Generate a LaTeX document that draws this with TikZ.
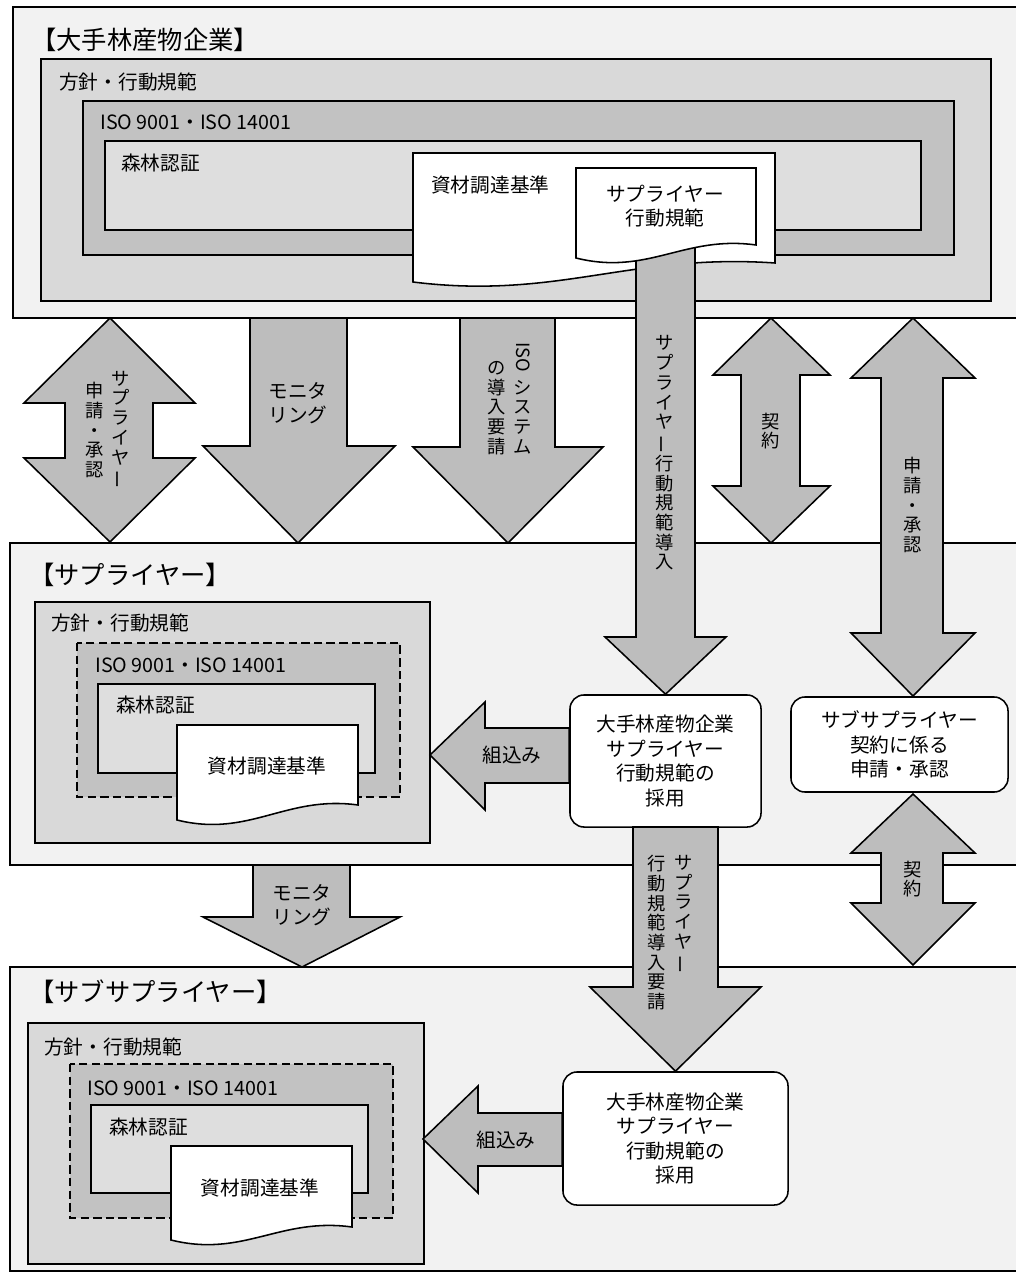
\documentclass[tikz,border=0pt]{standalone}
\usepackage{fontspec}
\setmainfont{Noto Sans CJK JP}
\usepackage{graphicx}
\usetikzlibrary{calc}

\definecolor{framegray}{gray}{0.95}
\definecolor{policygray}{gray}{0.85}
\definecolor{isogray}{gray}{0.76}
\definecolor{certgray}{gray}{0.87}
\definecolor{arrowgray}{gray}{0.74}

% long vowel mark for vertical text
\newcommand{\tatebar}{\rotatebox[origin=c]{90}{ー}}
% sideways latin letters in vertical text
\newcommand{\tateiso}{\rotatebox[origin=c]{-90}{ISO}}
% document shape: left, top, right, bottom right, bottom left
\newcommand{\drawdoc}[5]{%
  \draw[docshape] (#1,#2) -- (#3,#2) -- (#3,#4)
    .. controls ({#3-0.4*(#3-#1)},{#4-10}) and ({#1+0.4*(#3-#1)},{#5+18}) .. (#1,#5) -- cycle;}

\begin{document}
\begin{tikzpicture}[x=0.025cm, y=-0.025cm,
	every node/.style={inner sep=0pt},
	outerframe/.style={draw, line width=1.1pt, fill=framegray},
	policy/.style={draw, line width=1.1pt, fill=policygray},
	isobox/.style={draw, line width=1.1pt, fill=isogray},
	isodash/.style={isobox, dash pattern=on 6pt off 3pt},
	cert/.style={draw, line width=1.1pt, fill=certgray},
	docshape/.style={draw, line width=1.1pt, fill=white},
	blockarrow/.style={draw, line width=1.1pt, fill=arrowgray, line join=miter},
	roundbox/.style={draw, line width=1.1pt, fill=white, rounded corners=0.35cm,
		align=center, font=\fontsize{14}{17.5}\selectfont},
	vtext/.style={align=center, font=\fontsize{13}{14}\selectfont},
	htext/.style={align=center, font=\fontsize{14}{17}\selectfont},
	boxlabel/.style={anchor=west, font=\fontsize{14}{17}\selectfont},
	framelabel/.style={anchor=west, font=\fontsize{18}{20}\selectfont}]

	\useasboundingbox (0,0) rectangle (1016,1273);

	% frames
	\draw[outerframe] (13,7) rectangle (1030,318);
	\draw[outerframe] (10,543) rectangle (1030,865);
	\draw[outerframe] (10,967) rectangle (1030,1271);

	% major company
	\draw[policy] (41,59) rectangle (991,301);
	\draw[isobox] (83,101) rectangle (954,255);
	\draw[cert] (105,141) rectangle (921,230);
	\drawdoc{413}{153}{775}{263}{282}

	% supplier
	\draw[policy] (35,602) rectangle (430,843);
	\draw[isodash] (77,643) rectangle (400,797);
	\draw[cert] (98,684) rectangle (375,773);
	\drawdoc{177}{725}{358}{805}{820}

	% sub supplier
	\draw[policy] (28,1023) rectangle (424,1264);
	\draw[isodash] (70,1064) rectangle (393,1218);
	\draw[cert] (91,1105) rectangle (368,1193);
	\drawdoc{171}{1146}{352}{1227}{1240}

	% rounded boxes
	\node[roundbox, minimum width=4.775cm, minimum height=3.3cm] (adopt1) at (665.5,761)
		{大手林産物企業\\サプライヤー\\行動規範の\\採用};
	\node[roundbox, minimum width=5.425cm, minimum height=2.375cm] (subapp) at (899.5,744.5)
		{サブサプライヤー\\契約に係る\\申請・承認};
	\node[roundbox, minimum width=5.625cm, minimum height=3.325cm] (adopt2) at (675.5,1138.5)
		{大手林産物企業\\サプライヤー\\行動規範の\\採用};

	% block arrows, top band
	\draw[blockarrow] (110,318) -- (195,403) -- (153,403) -- (153,458) -- (195,458)
		-- (110,542) -- (24,458) -- (65,458) -- (65,403) -- (24,403) -- cycle;
	\draw[blockarrow] (250,318) -- (347,318) -- (347,446) -- (395,446) -- (298,543)
		-- (203,446) -- (250,446) -- cycle;
	\draw[blockarrow] (460,318) -- (555,318) -- (555,447) -- (603,447) -- (508,543)
		-- (413,447) -- (460,447) -- cycle;
	\draw[blockarrow] (636,240) -- (695,240) -- (695,637) -- (726,637) -- (adopt1.north)
		-- (605,637) -- (636,637) -- cycle;
	\draw[blockarrow] (771,318) -- (830,375) -- (800,375) -- (800,486) -- (830,486)
		-- (771,543) -- (713,486) -- (741,486) -- (741,375) -- (713,375) -- cycle;
	\draw[blockarrow] (913,318) -- (975,378) -- (943,378) -- (943,633) -- (975,633)
		-- (913,696) -- (851,633) -- (881,633) -- (881,378) -- (851,378) -- cycle;

	% block arrows, supplier band
	\draw[blockarrow] (430,755) -- (485,702) -- (485,728) -- ($(adopt1.west)+(0,-33)$)
		-- ($(adopt1.west)+(0,22)$) -- (485,783) -- (485,810) -- cycle;
	\draw[blockarrow] (253,865) -- (350,865) -- (350,917) -- (400,917) -- (302,967)
		-- (203,917) -- (253,917) -- cycle;
	\draw[blockarrow] (633,827) -- (718,827) -- (718,987) -- (761,987) -- (adopt2.north)
		-- (590,987) -- (633,987) -- cycle;
	\draw[blockarrow] (913,794) -- (975,853) -- (943,853) -- (943,903) -- (975,903)
		-- (913,965) -- (851,903) -- (881,903) -- (881,853) -- (851,853) -- cycle;

	% block arrow, sub supplier band
	\draw[blockarrow] (423,1139) -- (478,1086) -- (478,1113) -- ($(adopt2.west)+(0,-25.5)$)
		-- ($(adopt2.west)+(0,27.5)$) -- (478,1166) -- (478,1193) -- cycle;

	% supplier code of conduct sheet
	\drawdoc{576}{168}{756}{245}{258}

	% frame titles
	\node[framelabel] (major) at (31,40) {【大手林産物企業】};
	\node[framelabel] (supplier) at (29,575) {【サプライヤー】};
	\node[framelabel] (subsupplier) at (29,992) {【サブサプライヤー】};

	% box labels
	\node[boxlabel] (pol1) at (59,82) {方針・行動規範};
	\node[boxlabel] (iso1) at (100,122) {ISO 9001・ISO 14001};
	\node[boxlabel] (cert1) at (121,163) {森林認証};
	\node[boxlabel] (proc1) at (431,185) {資材調達基準};
	\node[htext] (code1) at (665,206) {サプライヤー\\行動規範};

	\node[boxlabel] (pol2) at (51,623) {方針・行動規範};
	\node[boxlabel] (iso2) at (95,665) {ISO 9001・ISO 14001};
	\node[boxlabel] (cert2) at (116,705) {森林認証};
	\node[htext] (proc2) at (267,766) {資材調達基準};

	\node[boxlabel] (pol3) at (44,1047) {方針・行動規範};
	\node[boxlabel] (iso3) at (87,1088) {ISO 9001・ISO 14001};
	\node[boxlabel] (cert3) at (109,1127) {森林認証};
	\node[htext] (proc3) at (260,1188) {資材調達基準};

	% arrow labels
	\node[vtext] (appsup) at (121,430) {サ\\プ\\ラ\\イ\\ヤ\\\tatebar};
	\node[vtext] (appok) at (95,430) {申\\請\\・\\承\\認};
	\node[htext] (mon1) at (298,403) {モニタ\\リング};
	\node[vtext] (isosys) at (523,398) {\tateiso\\[5pt]シ\\ス\\テ\\ム};
	\node[vtext] (isoreq) at (497,408) {の\\導\\入\\要\\請};
	\node[vtext] (intro) at (665,453) {サ\\プ\\ラ\\イ\\ヤ\\\tatebar\\行\\動\\規\\範\\導\\入};
	\node[vtext] (contract1) at (771,431) {契\\約};
	\node[vtext] (apply) at (913,505) {申\\請\\・\\承\\認};
	\node[htext] (embed1) at (512,755) {組込み};
	\node[htext] (mon2) at (302,905) {モニタ\\リング};
	\node[vtext, anchor=north] (reqsup) at (684,855) {サ\\プ\\ラ\\イ\\ヤ\\\tatebar};
	\node[vtext, anchor=north] (reqintro) at (657,855) {行\\動\\規\\範\\導\\入\\要\\請};
	\node[vtext] (contract2) at (913,879) {契\\約};
	\node[htext] (embed2) at (506,1140) {組込み};

\end{tikzpicture}
\end{document}
